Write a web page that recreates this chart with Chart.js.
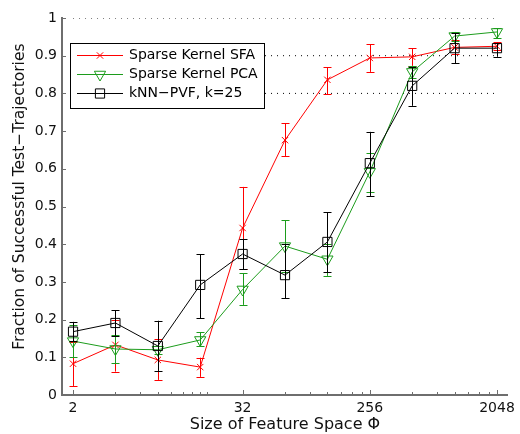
<!DOCTYPE html>
<html><head><meta charset="utf-8">
<script src="https://cdn.jsdelivr.net/npm/chart.js@4/dist/chart.umd.min.js"></script>
<style>html,body{margin:0;padding:0;background:#fff}canvas{display:block}</style>
</head><body>
<canvas id="c" width="520" height="434"></canvas>
<script>
// ---- data ----
const featureSizes = [2, 4, 8, 16, 32, 64, 128, 256, 512, 1024, 2048];

const sfaMean = [0.083, 0.133, 0.093, 0.074, 0.443, 0.676, 0.836, 0.894, 0.897, 0.922, 0.925];
const sfaLow  = [0.024, 0.062, 0.040, 0.048, 0.334, 0.634, 0.798, 0.857, 0.873, 0.905, 0.915];
const sfaHigh = [0.140, 0.200, 0.148, 0.099, 0.552, 0.721, 0.870, 0.931, 0.920, 0.942, 0.936];

const pcaMean = [0.143, 0.122, 0.120, 0.146, 0.280, 0.395, 0.360, 0.592, 0.857, 0.952, 0.963];
const pcaLow  = [0.100, 0.085, 0.110, 0.130, 0.239, 0.325, 0.316, 0.538, 0.840, 0.940, 0.947];
const pcaHigh = [0.186, 0.160, 0.130, 0.167, 0.323, 0.464, 0.400, 0.642, 0.873, 0.963, 0.973];

const knnMean = [0.168, 0.191, 0.130, 0.292, 0.374, 0.318, 0.406, 0.615, 0.820, 0.920, 0.920];
const knnLow  = [0.143, 0.157, 0.064, 0.204, 0.334, 0.257, 0.326, 0.528, 0.767, 0.880, 0.897];
const knnHigh = [0.194, 0.225, 0.197, 0.374, 0.414, 0.400, 0.485, 0.698, 0.870, 0.960, 0.934];

const seriesLabels = ['Sparse Kernel SFA', 'Sparse Kernel PCA', 'kNN\u2212PVF, k=25'];
const refLevels = [0.8, 0.9, 1.0];

const xMajorTicks = [2, 32, 256, 2048];
const xTickLabels = ['2', '32', '256', '2048'];
const xMinorTicks = [4, 6, 8, 10, 12, 14, 16, 18, 64, 96, 128, 160, 192, 224, 512, 768, 1024, 1280, 1536, 1792];
const yTicks = [0, 0.1, 0.2, 0.3, 0.4, 0.5, 0.6, 0.7, 0.8, 0.9, 1];
const yTickLabels = ['0', '0.1', '0.2', '0.3', '0.4', '0.5', '0.6', '0.7', '0.8', '0.9', '1'];

const xTitle = 'Size of Feature Space \u03A6';
const yTitle = 'Fraction of Successful Test\u2212Trajectories';

// ---- styling ----
const RED = '#ff0000', GREEN = '#1c9c1c', BLACK = '#000000', AXIS = '#6e6e6e';
const FONT = 'DejaVu Sans';

const pts = ys => featureSizes.map((x, i) => ({x, y: ys[i]}));

const series = [
  {label: seriesLabels[0], mean: sfaMean, lo: sfaLow, hi: sfaHigh, color: RED, style: 'crossRot', radius: 4.5, rotation: 0, order: 3},
  {label: seriesLabels[1], mean: pcaMean, lo: pcaLow, hi: pcaHigh, color: GREEN, style: 'triangle', radius: 6.5, rotation: 180, order: 2},
  {label: seriesLabels[2], mean: knnMean, lo: knnLow, hi: knnHigh, color: BLACK, style: 'rect', radius: 6.5, rotation: 0, order: 1}
];

const datasets = series.map(s => ({
  label: s.label,
  data: pts(s.mean),
  borderColor: s.color,
  backgroundColor: 'rgba(0,0,0,0)',
  borderWidth: 1,
  pointStyle: s.style,
  pointRadius: s.radius,
  pointRotation: s.rotation,
  pointBorderColor: s.color,
  pointBackgroundColor: 'rgba(0,0,0,0)',
  pointBorderWidth: 1,
  order: s.order,
  errLo: s.lo,
  errHi: s.hi,
  tension: 0
}));

refLevels.forEach(l => datasets.push({
  label: 'ref',
  data: [{x: featureSizes[0], y: l}, {x: featureSizes[featureSizes.length - 1], y: l}],
  borderColor: '#000',
  borderWidth: 1,
  borderDash: [1, 5],
  pointRadius: 0,
  order: 10,
  isRef: true
}));

// error bars drawn right after their series
const errorBars = {
  id: 'errorBars',
  afterDatasetDraw(chart, args) {
    const ds = chart.data.datasets[args.index];
    if (!ds.errLo) return;
    const ctx = chart.ctx, xs = chart.scales.x, ys = chart.scales.y;
    ctx.save();
    ctx.strokeStyle = ds.borderColor;
    ctx.lineWidth = 1;
    ctx.beginPath();
    ds.data.forEach((p, i) => {
      const x = Math.round(xs.getPixelForValue(p.x)) + 0.5;
      const yl = ys.getPixelForValue(ds.errLo[i]);
      const yh = ys.getPixelForValue(ds.errHi[i]);
      ctx.moveTo(x, yl); ctx.lineTo(x, yh);
      ctx.moveTo(x - 4, Math.round(yl) + 0.5); ctx.lineTo(x + 4, Math.round(yl) + 0.5);
      ctx.moveTo(x - 4, Math.round(yh) + 0.5); ctx.lineTo(x + 4, Math.round(yh) + 0.5);
    });
    ctx.stroke();
    ctx.restore();
  }
};

// tick marks inside the axes (MATLAB style)
const innerTicks = {
  id: 'innerTicks',
  afterDraw(chart) {
    const ctx = chart.ctx, xs = chart.scales.x, ys = chart.scales.y, a = chart.chartArea;
    ctx.save();
    ctx.strokeStyle = AXIS;
    ctx.lineWidth = 1;
    ctx.beginPath();
    yTicks.forEach(v => {
      const y = Math.round(ys.getPixelForValue(v)) + 0.5;
      ctx.moveTo(a.left, y); ctx.lineTo(a.left + 4, y);
    });
    xMajorTicks.forEach(v => {
      const x = Math.round(xs.getPixelForValue(v)) + 0.5;
      ctx.moveTo(x, a.bottom); ctx.lineTo(x, a.bottom - 5);
    });
    xMinorTicks.forEach(v => {
      const x = Math.round(xs.getPixelForValue(v)) + 0.5;
      ctx.moveTo(x, a.bottom); ctx.lineTo(x, a.bottom - 3);
    });
    ctx.stroke();
    ctx.restore();
  }
};

// boxed legend inside the axes
const boxLegend = {
  id: 'boxLegend',
  afterDraw(chart) {
    const ctx = chart.ctx, a = chart.chartArea;
    const x0 = a.left + 8, y0 = a.top + 25, w = 194, h = 65;
    ctx.save();
    ctx.fillStyle = '#fff';
    ctx.fillRect(x0, y0, w, h);
    ctx.strokeStyle = '#000';
    ctx.lineWidth = 1;
    ctx.strokeRect(x0 + 0.5, y0 + 0.5, w, h);
    series.forEach((s, i) => {
      const cy = Math.round(y0 + 12 + i * 19) + 0.5;
      ctx.strokeStyle = s.color;
      ctx.lineWidth = 1;
      ctx.beginPath();
      ctx.moveTo(x0 + 7, cy); ctx.lineTo(x0 + 53, cy);
      ctx.stroke();
      ctx.fillStyle = 'rgba(0,0,0,0)';
      Chart.helpers.drawPoint(ctx, {pointStyle: s.style, rotation: s.rotation, radius: s.radius, borderWidth: 1}, x0 + 30, cy);
      ctx.fillStyle = '#000';
      ctx.font = '14px "' + FONT + '"';
      ctx.textBaseline = 'middle';
      ctx.textAlign = 'left';
      ctx.fillText(s.label, x0 + 59, cy);
    });
    ctx.restore();
  }
};

new Chart(document.getElementById('c'), {
  type: 'line',
  data: {datasets},
  plugins: [errorBars, innerTicks, boxLegend],
  options: {
    responsive: false,
    animation: false,
    devicePixelRatio: 1,
    layout: {padding: {top: 18, right: 8, left: 0, bottom: 0}},
    plugins: {legend: {display: false}, tooltip: {enabled: false}},
    scales: {
      x: {
        type: 'logarithmic',
        min: 1.67,
        max: 2448,
        afterBuildTicks: s => { s.ticks = xMajorTicks.map(v => ({value: v})); },
        afterFit: s => { s.height = 39; },
        grid: {display: false, drawTicks: false},
        border: {display: true, color: AXIS, width: 2},
        ticks: {
          autoSkip: false, maxRotation: 0, padding: 5, color: '#111',
          font: {family: FONT, size: 14},
          callback: (v, i) => xTickLabels[i]
        },
        title: {display: true, text: xTitle, color: '#111', font: {family: FONT, size: 16}, padding: {top: 0, bottom: 0}}
      },
      y: {
        type: 'linear',
        min: 0,
        max: 1,
        afterBuildTicks: s => { s.ticks = yTicks.map(v => ({value: v})); },
        afterFit: s => { s.width = 62; },
        grid: {display: false, drawTicks: false},
        border: {display: true, color: AXIS, width: 2},
        ticks: {
          padding: 5, color: '#111',
          font: {family: FONT, size: 14},
          callback: (v, i) => yTickLabels[i]
        },
        title: {display: true, text: '    ' + yTitle, color: '#111', font: {family: FONT, size: 15.5}, padding: {top: 11, bottom: 0}}
      }
    }
  }
});
</script>
</body></html>
